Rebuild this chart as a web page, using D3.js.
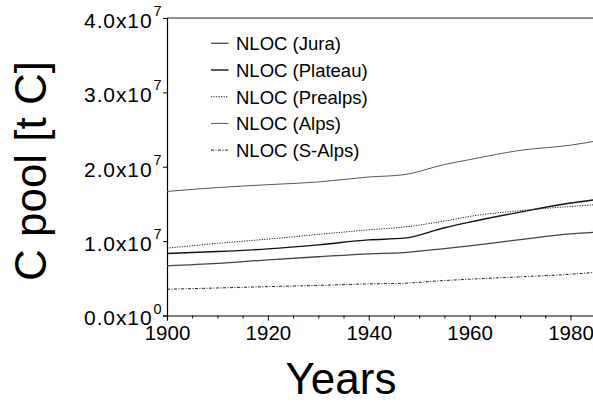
<!DOCTYPE html>
<html>
<head>
<meta charset="utf-8">
<script src="https://cdn.jsdelivr.net/npm/d3@7"></script>
<style>
  html, body { margin: 0; padding: 0; background: #fff; }
  svg { display: block; }
  text { font-family: "Liberation Sans", Arial, Helvetica, sans-serif; fill: #000; }
</style>
</head>
<body>
<div id="chart"></div>
<script>
// ---- data ----
const years = [1900, 1910, 1920, 1930, 1940, 1947, 1955, 1960, 1970, 1980, 1985];
const jura    = [0.667e7, 0.700e7, 0.748e7, 0.790e7, 0.829e7, 0.846e7, 0.900e7, 0.937e7, 1.020e7, 1.098e7, 1.120e7];
const plateau = [0.833e7, 0.860e7, 0.896e7, 0.950e7, 1.017e7, 1.040e7, 1.180e7, 1.256e7, 1.390e7, 1.512e7, 1.557e7];
const prealps = [0.905e7, 0.970e7, 1.027e7, 1.090e7, 1.152e7, 1.189e7, 1.270e7, 1.332e7, 1.410e7, 1.466e7, 1.490e7];
const alps    = [1.668e7, 1.720e7, 1.759e7, 1.795e7, 1.862e7, 1.893e7, 2.030e7, 2.096e7, 2.220e7, 2.290e7, 2.345e7];
const salps   = [0.353e7, 0.370e7, 0.388e7, 0.405e7, 0.425e7, 0.434e7, 0.470e7, 0.488e7, 0.520e7, 0.555e7, 0.580e7];
const seriesNames = ["NLOC (Jura)", "NLOC (Plateau)", "NLOC (Prealps)", "NLOC (Alps)", "NLOC (S-Alps)"];
const xTicks = [1900, 1920, 1940, 1960, 1980];
const xMinorTicks = [1905, 1910, 1915, 1925, 1930, 1935, 1945, 1950, 1955, 1965, 1970, 1975, 1985];
const yTicks = [0, 1e7, 2e7, 3e7, 4e7];
const yTickMantissa = ["0.0", "1.0", "2.0", "3.0", "4.0"];
const yTickExp = ["0", "7", "7", "7", "7"];

const W = 593, H = 404;
const svg = d3.select("#chart").append("svg").attr("width", W).attr("height", H);

const x = d3.scaleLinear().domain([1900, 1985]).range([167, 595.7]);
const y = d3.scaleLinear().domain([0, 4e7]).range([315.5, 18]);

const styles = [
  { stroke: "#444", width: 1.3, dash: null },
  { stroke: "#111", width: 1.4, dash: null },
  { stroke: "#222", width: 1.0, dash: "1.2,1.3" },
  { stroke: "#555", width: 1.0, dash: null },
  { stroke: "#222", width: 1.0, dash: "3,1.5,1,1.5" }
];
const allSeries = [jura, plateau, prealps, alps, salps];

// top frame line
svg.append("line")
  .attr("x1", x(1900)).attr("x2", W)
  .attr("y1", y(4e7)).attr("y2", y(4e7))
  .attr("stroke", "#222").attr("stroke-width", 1);

// x axis
const xAxis = svg.append("g").attr("transform", `translate(0,${y(0)})`)
  .call(d3.axisBottom(x).tickValues(xTicks).tickSize(5).tickFormat(""));
xAxis.select(".domain").attr("stroke", "#000").attr("stroke-width", 1.2);
xAxis.selectAll(".tick line").attr("stroke", "#000");
xAxis.selectAll(".tick").append("text")
  .attr("y", 24).attr("text-anchor", "middle")
  .style("font-size", "20.5px")
  .text(d => d);
const xMinor = svg.append("g").attr("transform", `translate(0,${y(0)})`)
  .call(d3.axisBottom(x).tickValues(xMinorTicks).tickSize(3).tickFormat(""));
xMinor.select(".domain").remove();
xMinor.selectAll(".tick line").attr("stroke", "#000");

// y axis
const yAxis = svg.append("g").attr("transform", `translate(${x(1900)},0)`)
  .call(d3.axisLeft(y).tickValues(yTicks).tickSize(4).tickFormat(""));
yAxis.select(".domain").attr("stroke", "#000").attr("stroke-width", 1.2);
yAxis.selectAll(".tick line").attr("stroke", "#000");
yAxis.selectAll(".tick").append("text")
  .attr("x", -14.5).attr("y", 9.3).attr("text-anchor", "end")
  .style("font-size", "21px").style("letter-spacing", "0.9px")
  .text((d, i) => yTickMantissa[i] + "x10");
yAxis.selectAll(".tick").append("text")
  .attr("x", -13.5).attr("y", -2.5).attr("text-anchor", "start")
  .style("font-size", "14.5px")
  .text((d, i) => yTickExp[i]);

// lines
const line = d3.line().x((d, i) => x(years[i])).y(d => y(d)).curve(d3.curveMonotoneX);
allSeries.forEach((s, k) => {
  svg.append("path").datum(s)
    .attr("d", line)
    .attr("fill", "none")
    .attr("stroke", styles[k].stroke)
    .attr("stroke-width", styles[k].width)
    .attr("stroke-dasharray", styles[k].dash);
});

// legend
const leg = svg.append("g");
seriesNames.forEach((name, k) => {
  const cy = 43.3 + k * 26.7;
  leg.append("line")
    .attr("x1", 211).attr("x2", 228.5).attr("y1", cy).attr("y2", cy)
    .attr("stroke", styles[k].stroke).attr("stroke-width", styles[k].width)
    .attr("stroke-dasharray", styles[k].dash);
  leg.append("text").attr("x", 236).attr("y", cy + 6.8)
    .style("font-size", "18.5px").text(name);
});

// axis titles
svg.append("text")
  .attr("transform", "translate(46,171) rotate(-90)")
  .attr("text-anchor", "middle")
  .style("font-size", "44px")
  .text("C pool [t C]");
svg.append("text")
  .attr("x", 341).attr("y", 394)
  .attr("text-anchor", "middle")
  .style("font-size", "44px")
  .text("Years");
</script>
</body>
</html>
